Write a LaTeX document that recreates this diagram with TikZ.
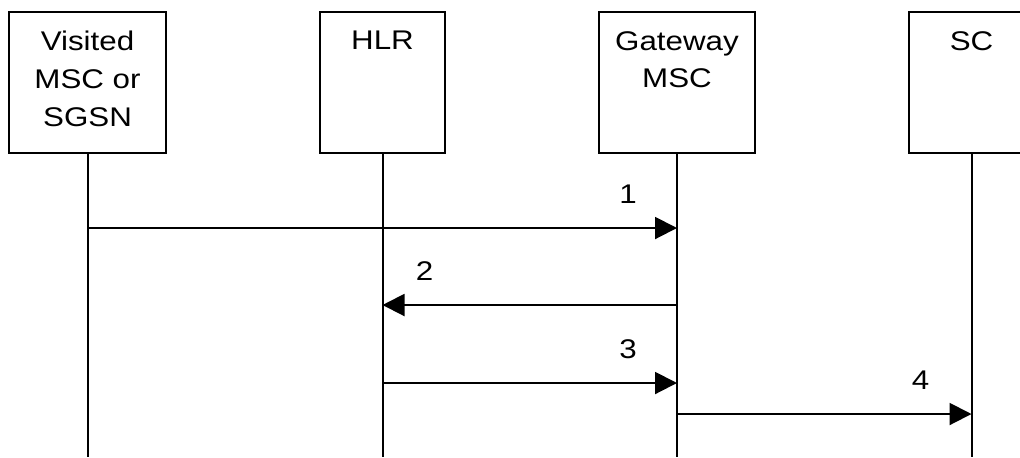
\documentclass[tikz,border=0pt]{standalone}
\usepackage{fontspec}
\setmainfont{Liberation Sans}[FakeStretch=1.16]
\usetikzlibrary{arrows.meta,positioning}

\begin{document}
\begin{tikzpicture}[x=0.5pt, y=-0.5pt, font=\fontsize{13.5pt}{18.85pt}\selectfont,
  entity/.style={draw, line width=1pt, minimum height=70.5pt, inner sep=0pt},
  title/.style={anchor=north, align=center, inner sep=0pt, yshift=-10pt},
  lifeline/.style={line width=1pt},
  msg/.style={line width=1pt, -{Triangle[length=11pt, width=11pt]}},
  num/.style={inner sep=0pt, above=11.75pt}]
\clip (0,0) rectangle (1020,457);
\node[entity, minimum width=78.5pt, label={[title]north:Visited\\MSC or\\SGSN}] (vm) at (87.5,82.5) {};
\node[entity, minimum width=62.5pt, right=76pt of vm, label={[title]north:HLR}] (hlr) {};
\node[entity, minimum width=78pt, right=76pt of hlr, label={[title]north:Gateway\\MSC}] (gw) {};
\node[entity, minimum width=62.5pt, right=76pt of gw, label={[title]north:SC}] (sc) {};
\coordinate (bottom) at (0,457);
\coordinate (m1) at (0,228); \coordinate (m2) at (0,305);
\coordinate (m3) at (0,383); \coordinate (m4) at (0,414);
\foreach \e in {vm,hlr,gw,sc} \draw[lifeline] (\e.south) -- (\e.south |- bottom);
\draw[msg] (vm.south |- m1) -- node[num, pos=1, xshift=-24.5pt] {1} (gw.south |- m1);
\draw[msg] (gw.south |- m2) -- node[num, pos=1, xshift=21pt] {2} (hlr.south |- m2);
\draw[msg] (hlr.south |- m3) -- node[num, pos=1, xshift=-24.5pt] {3} (gw.south |- m3);
\draw[msg] (gw.south |- m4) -- node[num, pos=1, xshift=-25.5pt] {4} (sc.south |- m4);
\end{tikzpicture}
\end{document}
